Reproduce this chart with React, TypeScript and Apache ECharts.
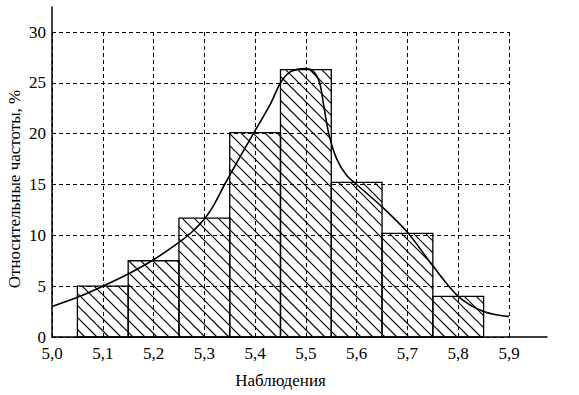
import React, { useEffect, useRef } from "react";
import * as echarts from "echarts";

const binCenters = [5.1, 5.2, 5.3, 5.4, 5.5, 5.6, 5.7, 5.8];
const binFreqs = [5.0, 7.5, 11.7, 20.1, 26.3, 15.2, 10.2, 4.0];
const curveX = [5.0, 5.05, 5.1, 5.15, 5.2, 5.25, 5.275, 5.3, 5.32, 5.34, 5.37, 5.4, 5.43, 5.45, 5.47, 5.5, 5.515, 5.527, 5.535, 5.545, 5.56, 5.58, 5.6, 5.65, 5.7, 5.75, 5.8, 5.85, 5.9];
const curveY = [3.0, 3.9, 5.0, 6.2, 7.6, 9.3, 10.3, 11.6, 13.1, 15.0, 17.7, 20.3, 22.9, 25.0, 26.1, 26.4, 26.1, 25.0, 22.8, 20.0, 17.6, 15.9, 15.0, 12.8, 10.3, 7.0, 4.0, 2.5, 2.0];
const xMin = 5.0;
const xGridMax = 5.9;
const xStep = 0.1;
const yGridMax = 30;
const yStep = 5;
const xTitle = "Наблюдения";
const yTitle = "Относительные частоты, %";

const W = 579;
const H = 395;
const LEFT = 52;
const BOTTOM = 58;
const RIGHT0 = 70;
const TOP0 = 32;
const RIGHT1 = 32;
const TOP1 = 7;
const HATCH = 12;
const FONT = "Liberation Serif";

export default function App() {
  const ref = useRef<HTMLDivElement>(null);
  useEffect(() => {
    if (!ref.current) return;
    const chart = echarts.init(ref.current, null, { renderer: "svg" });
    const w0 = W - LEFT - RIGHT0;
    const h0 = H - TOP0 - BOTTOM;
    const pxPerX = w0 / (xGridMax - xMin);
    const pxPerY = h0 / yGridMax;
    const xMax1 = xMin + (W - LEFT - RIGHT1) / pxPerX;
    const yMax1 = (H - TOP1 - BOTTOM) / pxPerY;
    const dashed = { type: [4, 3] as any, color: "#000", width: 1 };

    const renderBar = (params: any, api: any) => {
      const c = api.value(0);
      const v = api.value(1);
      const p0 = api.coord([c - xStep / 2, v]);
      const p1 = api.coord([c + xStep / 2, 0]);
      const x0 = p0[0], y0 = p0[1], x1 = p1[0], y1 = p1[1];
      const children: any[] = [];
      const kMin = Math.floor((y0 - x1) / HATCH) * HATCH;
      const kMax = Math.ceil((y1 - x0) / HATCH) * HATCH;
      for (let k = kMin; k <= kMax; k += HATCH) {
        const a = Math.max(x0, y0 - k);
        const b = Math.min(x1, y1 - k);
        if (b - a > 0.5) {
          children.push({
            type: "line",
            shape: { x1: a, y1: a + k, x2: b, y2: b + k },
            style: { stroke: "#000", lineWidth: 1.1 },
          });
        }
      }
      children.push({
        type: "rect",
        shape: { x: x0, y: y0, width: x1 - x0, height: y1 - y0 },
        style: { fill: "none", stroke: "#000", lineWidth: 1.3 },
      });
      return { type: "group", children };
    };

    chart.setOption({
      animation: false,
      backgroundColor: "#fff",
      grid: [
        { left: LEFT, right: RIGHT0, top: TOP0, bottom: BOTTOM },
        { left: LEFT, right: RIGHT1, top: TOP1, bottom: BOTTOM },
      ],
      graphic: [
        {
          type: "text",
          x: 14,
          y: 189,
          rotation: Math.PI / 2,
          style: {
            text: yTitle,
            fill: "#000",
            font: `17px ${FONT}`,
            align: "center",
            verticalAlign: "middle",
          },
        },
      ],
      xAxis: [
        {
          type: "value",
          gridIndex: 0,
          min: xMin,
          max: xGridMax,
          interval: xStep,
          axisLine: { show: false },
          axisTick: { show: false },
          axisLabel: {
            color: "#000",
            fontSize: 17,
            fontFamily: FONT,
            margin: 8,
            formatter: (v: number) => v.toFixed(1).replace(".", ","),
          },
          splitLine: { show: true, lineStyle: dashed },
          name: xTitle,
          nameLocation: "middle",
          nameGap: 35,
          nameTextStyle: { color: "#000", fontSize: 17, fontFamily: FONT },
        },
        {
          type: "value",
          gridIndex: 1,
          min: xMin,
          max: xMax1,
          axisLine: { show: true, lineStyle: { color: "#000", width: 1.5 } },
          axisTick: { show: false },
          axisLabel: { show: false },
          splitLine: { show: false },
        },
      ],
      yAxis: [
        {
          type: "value",
          gridIndex: 0,
          min: 0,
          max: yGridMax,
          interval: yStep,
          axisLine: { show: false },
          axisTick: { show: false },
          axisLabel: { color: "#000", fontSize: 17, fontFamily: FONT, margin: 6 },
          splitLine: { show: true, lineStyle: dashed },
        },
        {
          type: "value",
          gridIndex: 1,
          min: 0,
          max: yMax1,
          axisLine: { show: true, lineStyle: { color: "#000", width: 1.5 } },
          axisTick: { show: false },
          axisLabel: { show: false },
          splitLine: { show: false },
        },
      ],
      series: [
        {
          type: "custom",
          xAxisIndex: 1,
          yAxisIndex: 1,
          renderItem: renderBar,
          data: binCenters.map((c, i) => [c, binFreqs[i]]),
          z: 3,
        },
        {
          type: "line",
          xAxisIndex: 1,
          yAxisIndex: 1,
          smooth: 0.3,
          symbol: "none",
          lineStyle: { color: "#000", width: 1.6 },
          data: curveX.map((x, i) => [x, curveY[i]]),
          z: 5,
        },
      ],
    });
    return () => chart.dispose();
  }, []);
  return (
    <div
      ref={ref}
      style={{ position: "fixed", left: 0, top: 0, width: W, height: H, background: "#fff" }}
    />
  );
}
